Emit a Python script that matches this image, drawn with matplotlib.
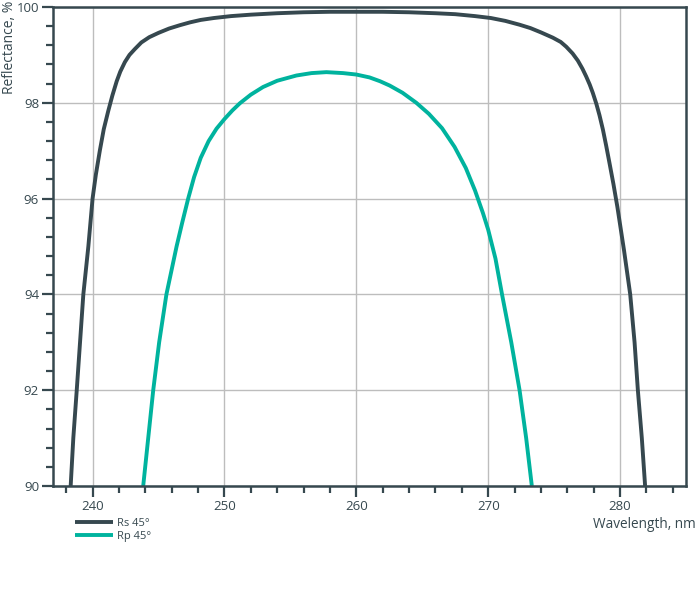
import matplotlib
matplotlib.use("Agg")
import matplotlib.pyplot as plt
from matplotlib.ticker import MultipleLocator

plt.rcParams['font.family'] = ['Open Sans', 'DejaVu Sans']

# valores (longitud de onda en nm, reflectancia en %)
rs_wl = [238.34, 238.54, 238.8, 239.05, 239.3, 239.68, 240.0, 240.25, 240.55, 240.85,
         241.19, 241.5, 241.83, 242.1, 242.45, 242.8, 243.2, 243.7, 244.3, 245.0,
         245.8, 246.62, 247.4, 248.2, 249.2, 250.5, 252.0, 254.0, 256.0, 258.0,
         260.0, 262.0, 264.0, 266.0, 267.5, 269.0, 270.2, 271.3, 272.38, 273.2,
         274.0, 274.9, 275.5, 275.92, 276.4, 276.8, 277.15, 277.43, 277.7, 277.93,
         278.2, 278.44, 278.7, 278.95, 279.2, 279.5, 279.8, 280.3, 280.77, 281.1,
         281.35, 281.65, 281.9]
rs_r = [90.0, 91.0, 92.0, 93.0, 94.0, 95.0, 96.0, 96.5, 97.0, 97.45,
        97.83, 98.15, 98.45, 98.65, 98.85, 99.0, 99.12, 99.26, 99.37, 99.46,
        99.55, 99.62, 99.68, 99.73, 99.77, 99.81, 99.84, 99.87, 99.89, 99.90,
        99.90, 99.90, 99.89, 99.87, 99.85, 99.81, 99.77, 99.71, 99.63, 99.56,
        99.47, 99.36, 99.27, 99.17, 99.03, 98.88, 98.71, 98.55, 98.38, 98.21,
        97.98, 97.74, 97.44, 97.1, 96.74, 96.3, 95.82, 94.92, 94.0, 93.0,
        92.0, 91.0, 90.0]

rp_wl = [243.84, 244.22, 244.6, 245.05, 245.6, 246.37, 246.8, 247.25, 247.7, 248.2,
         248.8, 249.4, 250.0, 250.6, 251.17, 252.0, 252.93, 254.0, 255.46, 256.6,
         257.73, 259.0, 260.0, 261.0, 261.8, 262.53, 263.5, 264.55, 265.5, 266.5,
         267.45, 268.3, 269.0, 269.6, 270.0, 270.55, 271.05, 271.75, 272.38, 272.88,
         273.31]
rp_r = [90.0, 91.0, 92.0, 93.0, 94.0, 95.0, 95.5, 96.0, 96.45, 96.85,
        97.2, 97.46, 97.66, 97.84, 97.99, 98.17, 98.33, 98.46, 98.57, 98.62,
        98.64, 98.62, 98.59, 98.53, 98.45, 98.36, 98.21, 98.0, 97.77, 97.47,
        97.08, 96.64, 96.17, 95.7, 95.35, 94.75, 94.0, 93.0, 92.0, 91.0,
        90.0]

oscuro = '#36484f'
verde = '#00b39e'

fig = plt.figure(figsize=(6.97, 6.0), dpi=100)
ax = fig.add_axes([53/697, 1 - 486/600, (686 - 53)/697, (486 - 7)/600])

ax.plot(rs_wl, rs_r, color=oscuro, lw=2.8, label='Rs 45°',
        solid_capstyle='butt', solid_joinstyle='round')
ax.plot(rp_wl, rp_r, color=verde, lw=2.8, label='Rp 45°',
        solid_capstyle='butt', solid_joinstyle='round')

ax.set_xlim(237, 285)
ax.set_ylim(90, 100)
ax.xaxis.set_major_locator(MultipleLocator(10))
ax.xaxis.set_minor_locator(MultipleLocator(2))
ax.yaxis.set_major_locator(MultipleLocator(2))
ax.yaxis.set_minor_locator(MultipleLocator(0.4))

ax.grid(True, which='major', color='#bdbdbd', lw=1.0)
ax.set_axisbelow(True)

for s in ax.spines.values():
    s.set_color(oscuro)
    s.set_linewidth(1.8)

ax.tick_params(which='major', length=8, width=1.6, color=oscuro,
               labelcolor=oscuro, labelsize=9.5, pad=2)
ax.tick_params(which='minor', length=5, width=1.6, color=oscuro)

fig.text(10/697, 0.999, 'Reflectance, %', rotation=90, ha='center', va='top',
         color=oscuro, fontsize=10)
fig.text(696/697, 1 - 524/600, 'Wavelength, nm', ha='right', va='center',
         color=oscuro, fontsize=9.8)

fig.legend(loc='upper left', bbox_to_anchor=(75/697, 1 - 518/600), frameon=False,
           fontsize=8, handlelength=3.4, handletextpad=0.35, labelspacing=0.15,
           borderpad=0, borderaxespad=0, labelcolor=oscuro)

fig.savefig('out.png', dpi=100)
